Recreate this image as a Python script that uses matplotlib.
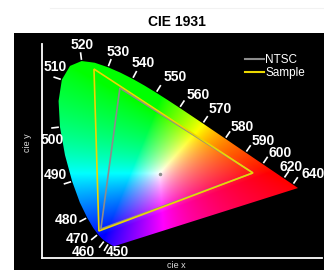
import numpy as np
import matplotlib
matplotlib.use("Agg")
import matplotlib.pyplot as plt
from matplotlib.patches import Polygon
from matplotlib.lines import Line2D

plt.rcParams['font.family'] = ['Liberation Sans', 'DejaVu Sans']

# CIE 1931 2 deg spectral locus, 380-700 nm in 5 nm steps
wl = np.arange(380, 705, 5)
loc_x = np.array([0.1741, 0.1740, 0.1738, 0.1736, 0.1733, 0.1730, 0.1726, 0.1721,
                  0.1714, 0.1703, 0.1689, 0.1669, 0.1644, 0.1611, 0.1566, 0.1510,
                  0.1440, 0.1355, 0.1241, 0.1096, 0.0913, 0.0687, 0.0454, 0.0235,
                  0.0082, 0.0039, 0.0139, 0.0389, 0.0743, 0.1142, 0.1547, 0.1929,
                  0.2296, 0.2658, 0.3016, 0.3373, 0.3731, 0.4087, 0.4441, 0.4788,
                  0.5125, 0.5448, 0.5752, 0.6029, 0.6270, 0.6482, 0.6658, 0.6801,
                  0.6915, 0.7006, 0.7079, 0.7140, 0.7190, 0.7230, 0.7260, 0.7283,
                  0.7300, 0.7311, 0.7320, 0.7327, 0.7334, 0.7340, 0.7344, 0.7346,
                  0.7347])
loc_y = np.array([0.0050, 0.0050, 0.0049, 0.0049, 0.0048, 0.0048, 0.0048, 0.0048,
                  0.0051, 0.0058, 0.0069, 0.0086, 0.0109, 0.0138, 0.0177, 0.0227,
                  0.0297, 0.0399, 0.0578, 0.0868, 0.1327, 0.2007, 0.2950, 0.4127,
                  0.5384, 0.6548, 0.7502, 0.8120, 0.8338, 0.8262, 0.8059, 0.7816,
                  0.7543, 0.7243, 0.6923, 0.6589, 0.6245, 0.5896, 0.5547, 0.5202,
                  0.4866, 0.4544, 0.4242, 0.3965, 0.3725, 0.3514, 0.3340, 0.3197,
                  0.3083, 0.2993, 0.2920, 0.2859, 0.2809, 0.2770, 0.2740, 0.2717,
                  0.2700, 0.2689, 0.2680, 0.2673, 0.2666, 0.2660, 0.2656, 0.2654,
                  0.2653])

label_wl = [450, 460, 470, 480, 490, 500, 510, 520, 530, 540,
            550, 560, 570, 580, 590, 600, 620, 640]
# label centre offsets from the locus point, in pixels (right, up)
label_off = {450: (9, -9), 460: (-21, -11), 470: (-21, -5), 480: (-21, -2),
             490: (-17, 6), 500: (-8, -13), 510: (-7, 13), 520: (0, 16),
             530: (10, 15), 540: (11, 16), 550: (19, 16), 560: (19, 13),
             570: (17, 14), 580: (17, 12), 590: (17, 12), 600: (17, 11),
             620: (7, 11), 640: (20, 11)}

ntsc_x = [0.191, 0.597, 0.133]
ntsc_y = [0.713, 0.333, 0.082]
sample_x = [0.112, 0.597, 0.127]
sample_y = [0.798, 0.333, 0.073]
white_pt = (0.3127, 0.3290)

W, H = 324, 270
fig = plt.figure(figsize=(W / 100, H / 100), dpi=100)

# black panel behind the plot
bg = fig.add_axes([14 / W, 0, 1 - 14 / W, (H - 33) / H], zorder=-1)
bg.set_facecolor('black')
bg.set_xticks([])
bg.set_yticks([])
for s in bg.spines.values():
    s.set_visible(False)

ax = fig.add_axes([42 / W, 12 / H, 280 / W, 214 / H])
ax.patch.set_alpha(0)
ax.set_xticks([])
ax.set_yticks([])
for k in ['top', 'right']:
    ax.spines[k].set_visible(False)
for k in ['left', 'bottom']:
    ax.spines[k].set_color('white')
    ax.spines[k].set_linewidth(1.3)

# colour fill of the horseshoe
gx = np.linspace(0.0, 0.74, 500)
gy = np.linspace(0.004, 0.84, 500)
GX, GY = np.meshgrid(gx, gy)
Xc = GX / GY
Zc = (1 - GX - GY) / GY
r = 3.2406 * Xc - 1.5372 - 0.4986 * Zc
g = -0.9689 * Xc + 1.8758 + 0.0415 * Zc
b = 0.0557 * Xc - 0.2040 + 1.0570 * Zc
rgb = np.clip(np.dstack([r, g, b]), 0, None)
rgb = rgb / rgb.max(axis=2, keepdims=True)
rgb = np.clip(rgb ** 0.75, 0, 1)
im = ax.imshow(rgb, extent=(gx[0], gx[-1], gy[0], gy[-1]), origin='lower',
               aspect='auto', interpolation='bilinear')
horse = Polygon(np.column_stack([loc_x, loc_y]), closed=True,
                facecolor='none', edgecolor='none', transform=ax.transData)
ax.add_patch(horse)
im.set_clip_path(horse)
ax.set_xlim(-0.0467, 0.808)
ax.set_ylim(-0.0479, 0.910)

ax.fill(ntsc_x, ntsc_y, facecolor='none', edgecolor='#8c8c8c', lw=1.2)
ax.fill(sample_x, sample_y, facecolor='none', edgecolor='#ecd800', lw=1.2)
ax.plot(*white_pt, 'o', color='#909090', ms=1.5)

# wavelength ticks and labels
inv = ax.transData.inverted()
for w in label_wl:
    i = int(np.where(wl == w)[0][0])
    p = ax.transData.transform((loc_x[i], loc_y[i]))
    a = ax.transData.transform((loc_x[i - 1], loc_y[i - 1]))
    c = ax.transData.transform((loc_x[i + 1], loc_y[i + 1]))
    t = (c - a) / np.hypot(*(c - a))
    n = np.array([-t[1], t[0]])
    p1 = inv.transform(p + 2 * n)
    p2 = inv.transform(p + 8 * n)
    ax.plot([p1[0], p2[0]], [p1[1], p2[1]], color='white', lw=1.2, clip_on=False)
    ax.annotate(str(w), xy=(loc_x[i], loc_y[i]), xytext=label_off[w],
                textcoords='offset pixels', ha='center', va='center',
                color='white', fontsize=10, fontweight='bold',
                annotation_clip=False)

handles = [Line2D([], [], color='#8c8c8c', lw=1.5),
           Line2D([], [], color='#ecd800', lw=1.5)]
ax.legend(handles, ['NTSC', 'Sample'], loc='upper left',
          bbox_to_anchor=(245 / W, 1 - 54 / H), bbox_transform=fig.transFigure,
          frameon=False, fontsize=8.5, handlelength=1.6, handletextpad=0.1,
          borderpad=0, borderaxespad=0, labelspacing=0.1, labelcolor='white')

fig.text(176 / W, 1 - 266 / H, 'cie x', color='#dddddd', fontsize=6.5,
         ha='center', va='center')
fig.text(27 / W, 1 - 143 / H, 'cie y', color='#dddddd', fontsize=6.5,
         ha='center', va='center', rotation=90)
fig.text(177 / W, 1 - 22 / H, 'CIE 1931', fontsize=10, fontweight='bold',
         ha='center', va='center')
fig.add_artist(Line2D([50 / W, 1], [1 - 8 / H, 1 - 8 / H], color='#f2f2f2', lw=0.8))

fig.savefig('out.png', dpi=100)
